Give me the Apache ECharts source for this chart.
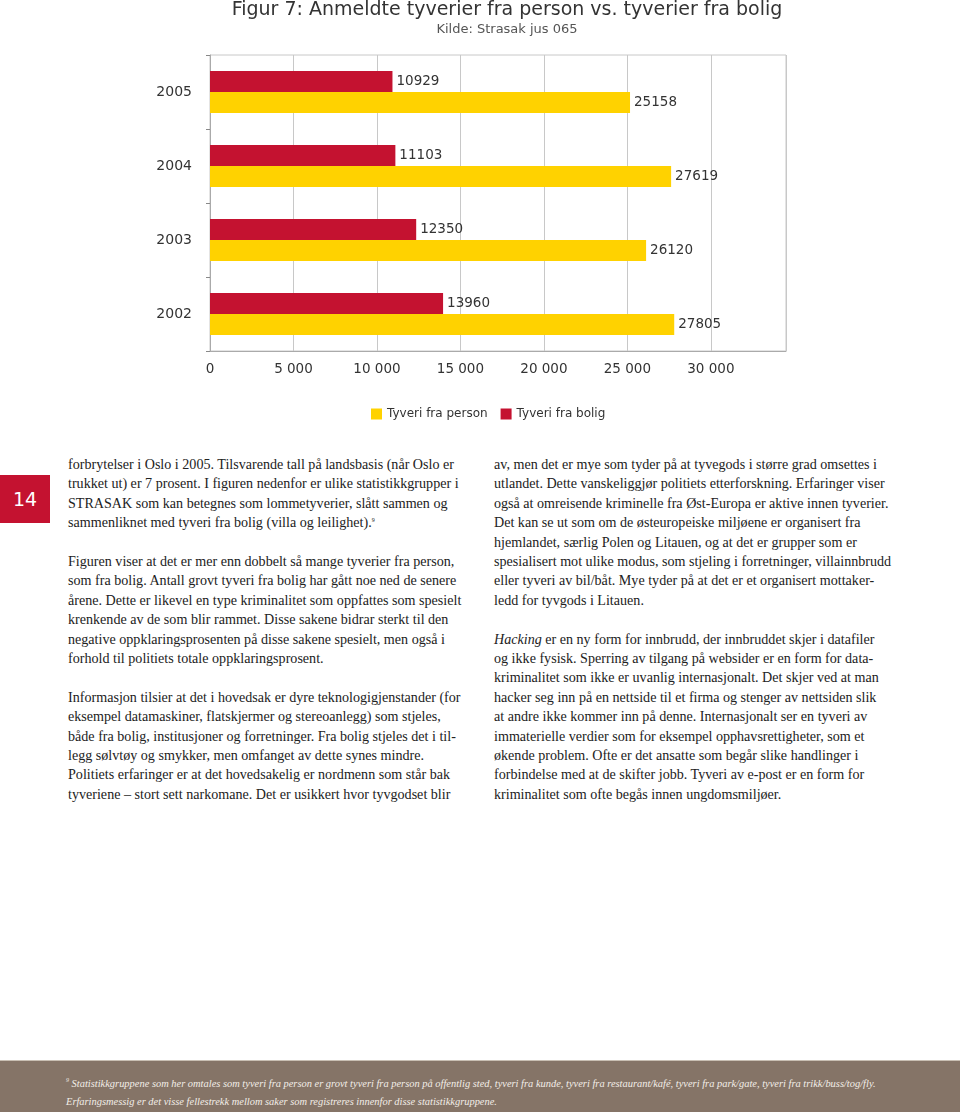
<!DOCTYPE html>
<html>
<head>
<meta charset="utf-8">
<script src="https://cdn.jsdelivr.net/npm/echarts@6/dist/echarts.min.js"></script>
<style>
  html, body { margin: 0; padding: 0; background: #fff; }
  body { width: 960px; height: 1112px; position: relative; overflow: hidden; }
  #chart { position: absolute; left: 0; top: 0; width: 960px; height: 430px; }
  .col { position: absolute; font-family: "Liberation Serif", "DejaVu Serif", serif; font-size: 14.1px; line-height: 19.4px; color: #222; white-space: pre; }
  .col p { margin: 0 0 19.4px 0; }
  #left { left: 68px; top: 455px; }
  #right { left: 494px; top: 455px; }
  #pagenum { position: absolute; left: 0; top: 475px; width: 50px; height: 48px; background: #C41230; color: #fff; font-family: "DejaVu Sans", sans-serif; font-size: 19px; line-height: 48px; text-align: center; }
  #footer { position: absolute; left: 0; top: 1060px; width: 960px; height: 52px; background: #857467; border-top: 1px solid #c9bfb3; }
  #footer .txt { position: absolute; left: 66px; top: 14px; font-family: "Liberation Serif", serif; font-style: italic; font-size: 10.45px; line-height: 18px; color: #f3eee8; white-space: pre; }
  sup { font-size: 6px; vertical-align: 5px; line-height: 0; }
</style>
</head>
<body>
<div id="chart"></div>
<div id="pagenum">14</div>
<div id="left" class="col"><p>forbrytelser i Oslo i 2005. Tilsvarende tall på landsbasis (når Oslo er
trukket ut) er 7 prosent. I figuren nedenfor er ulike statistikkgrupper i
STRASAK som kan betegnes som lommetyverier, slått sammen og
sammenliknet med tyveri fra bolig (villa og leilighet).<sup>9</sup></p><p>Figuren viser at det er mer enn dobbelt så mange tyverier fra person,
som fra bolig. Antall grovt tyveri fra bolig har gått noe ned de senere
årene. Dette er likevel en type kriminalitet som oppfattes som spesielt
krenkende av de som blir rammet. Disse sakene bidrar sterkt til den
negative oppklaringsprosenten på disse sakene spesielt, men også i
forhold til politiets totale oppklaringsprosent.</p><p>Informasjon tilsier at det i hovedsak er dyre teknologigjenstander (for
eksempel datamaskiner, flatskjermer og stereoanlegg) som stjeles,
både fra bolig, institusjoner og forretninger. Fra bolig stjeles det i til-
legg sølvtøy og smykker, men omfanget av dette synes mindre.
Politiets erfaringer er at det hovedsakelig er nordmenn som står bak
tyveriene – stort sett narkomane. Det er usikkert hvor tyvgodset blir</p></div>
<div id="right" class="col"><p>av, men det er mye som tyder på at tyvegods i større grad omsettes i
utlandet. Dette vanskeliggjør politiets etterforskning. Erfaringer viser
også at omreisende kriminelle fra Øst-Europa er aktive innen tyverier.
Det kan se ut som om de østeuropeiske miljøene er organisert fra
hjemlandet, særlig Polen og Litauen, og at det er grupper som er
spesialisert mot ulike modus, som stjeling i forretninger, villainnbrudd
eller tyveri av bil/båt. Mye tyder på at det er et organisert mottaker-
ledd for tyvgods i Litauen.</p><p><i>Hacking</i> er en ny form for innbrudd, der innbruddet skjer i datafiler
og ikke fysisk. Sperring av tilgang på websider er en form for data-
kriminalitet som ikke er uvanlig internasjonalt. Det skjer ved at man
hacker seg inn på en nettside til et firma og stenger av nettsiden slik
at andre ikke kommer inn på denne. Internasjonalt ser en tyveri av
immaterielle verdier som for eksempel opphavsrettigheter, som et
økende problem. Ofte er det ansatte som begår slike handlinger i
forbindelse med at de skifter jobb. Tyveri av e-post er en form for
kriminalitet som ofte begås innen ungdomsmiljøer.</p></div>
<div id="footer"><div class="txt"><sup>9</sup> Statistikkgruppene som her omtales som tyveri fra person er grovt tyveri fra person på offentlig sted, tyveri fra kunde, tyveri fra restaurant/kafé, tyveri fra park/gate, tyveri fra trikk/buss/tog/fly.
Erfaringsmessig er det visse fellestrekk mellom saker som registreres innenfor disse statistikkgruppene.</div></div>
<script>
const years = ['2002', '2003', '2004', '2005'];
const tyveriBolig = [13960, 12350, 11103, 10929];
const tyveriPerson = [27805, 26120, 27619, 25158];
const seriesNames = ['Tyveri fra person', 'Tyveri fra bolig'];
const colors = { person: '#FFD200', bolig: '#C41230' };

const chart = echarts.init(document.getElementById('chart'), null, { renderer: 'canvas' });
const font = 'DejaVu Sans';
chart.setOption({
  animation: false,
  title: {
    text: 'Figur 7: Anmeldte tyverier fra person vs. tyverier fra bolig',
    subtext: 'Kilde: Strasak jus 065',
    left: 502, top: -4, textAlign: 'center',
    textStyle: { fontFamily: font, fontSize: 19, fontWeight: 'normal', color: '#333' },
    subtextStyle: { fontFamily: font, fontSize: 13, color: '#555' },
    itemGap: 3
  },
  legend: {
    data: seriesNames,
    top: 403, left: 366,
    itemWidth: 11, itemHeight: 11, itemGap: 13,
    icon: 'rect',
    textStyle: { fontFamily: font, fontSize: 12, color: '#333' }
  },
  grid: { left: 210, right: 174, top: 55, bottom: 79, show: true, borderColor: '#c8c8c8', borderWidth: 1 },
  xAxis: {
    type: 'value', min: 0, max: 34500, interval: 5000,
    axisLine: { show: true, lineStyle: { color: '#aaa' } },
    axisTick: { show: false },
    splitLine: { show: true, lineStyle: { color: '#c8c8c8' } },
    axisLabel: {
      margin: 11, fontFamily: font, fontSize: 13.5, color: '#333', showMaxLabel: false,
      formatter: v => (v % 5000 === 0 ? String(v).replace(/\B(?=(\d{3})+(?!\d))/g, ' ') : '')
    }
  },
  yAxis: {
    type: 'category', data: years,
    axisLine: { show: true, lineStyle: { color: '#aaa' } },
    axisTick: { show: true, length: 4, lineStyle: { color: '#888' } },
    axisLabel: { margin: 18, fontFamily: font, fontSize: 14, color: '#333' }
  },
  series: [
    {
      name: seriesNames[1], type: 'bar', data: tyveriBolig, barWidth: 21, barGap: '0%',
      itemStyle: { color: colors.bolig },
      label: { show: true, position: 'right', distance: 4, fontFamily: font, fontSize: 13.5, color: '#333' }
    },
    {
      name: seriesNames[0], type: 'bar', data: tyveriPerson, barWidth: 21, barGap: '0%',
      itemStyle: { color: colors.person },
      label: { show: true, position: 'right', distance: 4, fontFamily: font, fontSize: 13.5, color: '#333' }
    }
  ]
});
</script>
</body>
</html>
